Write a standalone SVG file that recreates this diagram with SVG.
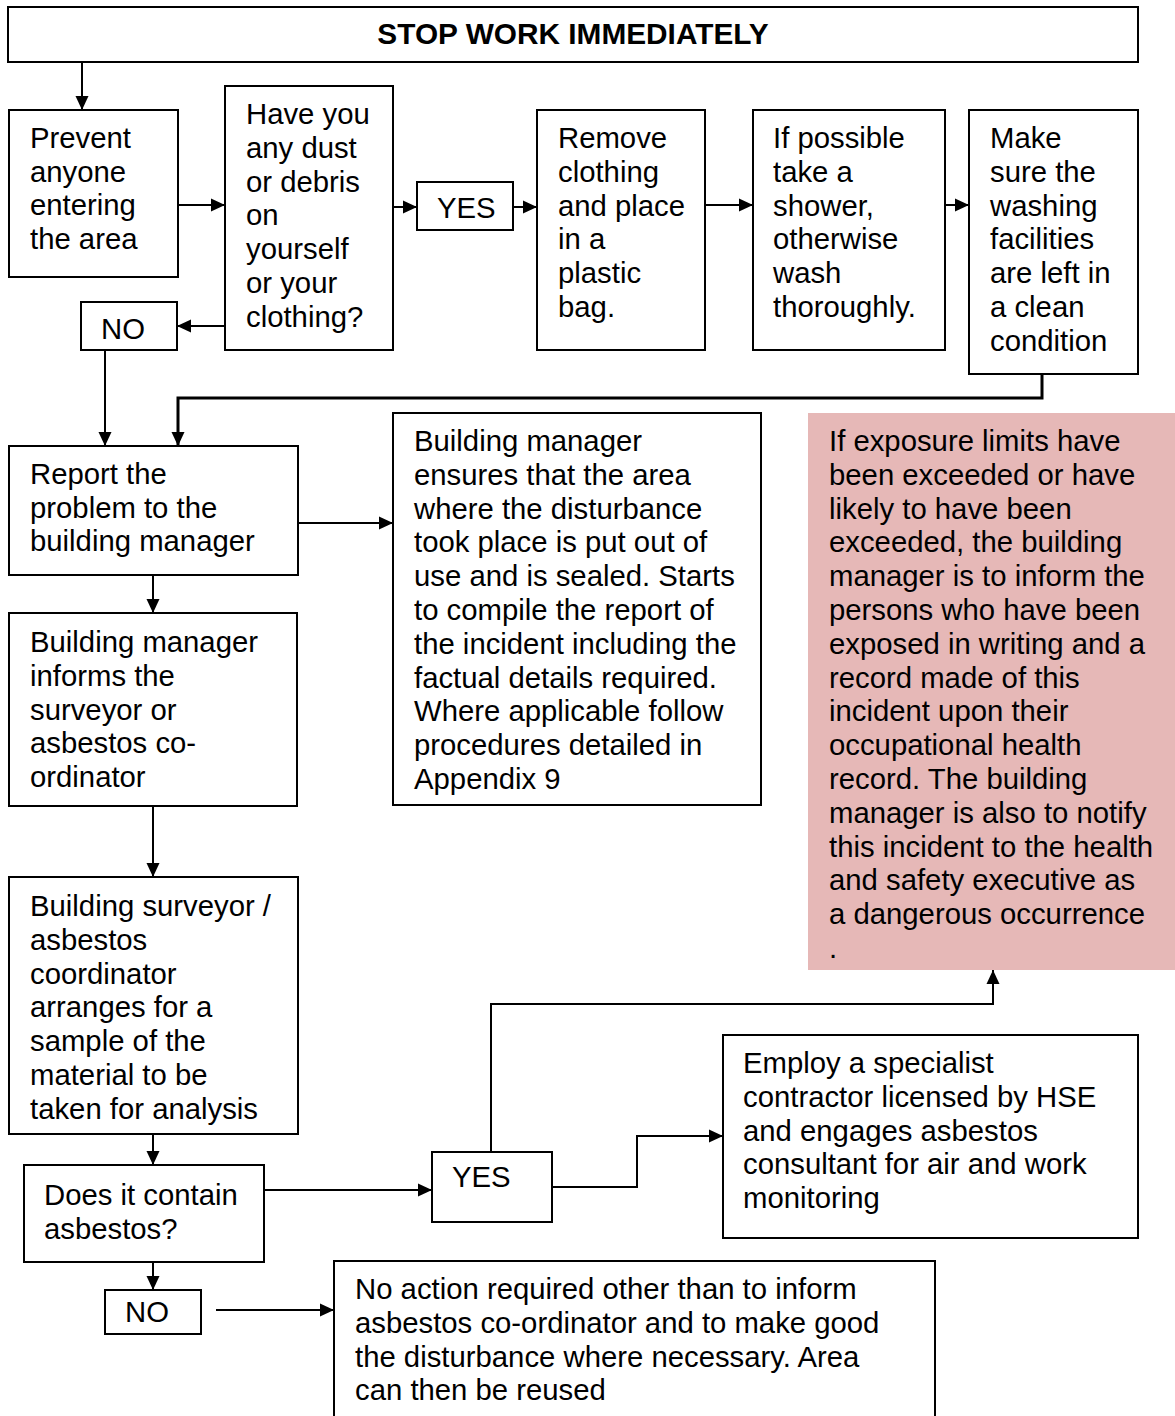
<svg xmlns="http://www.w3.org/2000/svg" width="1175" height="1416" viewBox="0 0 1175 1416">
<style>
.box{fill:#fff;stroke:#000;stroke-width:2}
.pink{fill:#e6b8b7;stroke:none}
.t{font-family:"Liberation Sans",Arial,sans-serif;font-size:29.3px;fill:#000}
.title{font-family:"Liberation Sans",Arial,sans-serif;font-size:29.8px;font-weight:bold;fill:#000}
.c{fill:none;stroke:#000;stroke-width:2}
.thick{fill:none;stroke:#000;stroke-width:3}
</style>
<defs>
<marker id="arr" markerUnits="userSpaceOnUse" markerWidth="15" markerHeight="15" refX="14" refY="7.5" orient="auto">
<path d="M0,1 L14,7.5 L0,14 z" fill="#000"/>
</marker>
</defs>

<g id="connectors">
<path class="c" d="M82,62 V110" marker-end="url(#arr)"/>
<path class="c" d="M178,205 H225" marker-end="url(#arr)"/>
<path class="c" d="M393,207 H417" marker-end="url(#arr)"/>
<path class="c" d="M513,207 H537" marker-end="url(#arr)"/>
<path class="c" d="M705,205 H753" marker-end="url(#arr)"/>
<path class="c" d="M945,205 H969" marker-end="url(#arr)"/>
<path class="c" d="M225,326 H177" marker-end="url(#arr)"/>
<path class="c" d="M105,350 V446" marker-end="url(#arr)"/>
<path class="thick" d="M1042,374 V398 H178 V446" marker-end="url(#arr)"/>
<path class="c" d="M292,523 H393" marker-end="url(#arr)"/>
<path class="c" d="M153,575 V613" marker-end="url(#arr)"/>
<path class="c" d="M153,806 V877" marker-end="url(#arr)"/>
<path class="c" d="M153,1134 V1165" marker-end="url(#arr)"/>
<path class="c" d="M153,1262 V1290" marker-end="url(#arr)"/>
<path class="c" d="M216,1310 H334" marker-end="url(#arr)"/>
<path class="c" d="M264,1190 H432" marker-end="url(#arr)"/>
<path class="c" d="M552,1187 H637 V1136 H723" marker-end="url(#arr)"/>
<path class="c" d="M491,1152 V1004 H993 V970" marker-end="url(#arr)"/>
</g>

<g id="stop">
<rect class="box" x="8" y="7" width="1130" height="55"/>
<text class="title" x="573" y="44" text-anchor="middle">STOP WORK IMMEDIATELY</text>
</g>

<g id="prevent">
<rect class="box" x="9" y="110" width="169" height="167"/>
<text class="t" x="30" y="148"><tspan x="30">Prevent</tspan><tspan x="30" dy="33.7">anyone</tspan><tspan x="30" dy="33.7">entering</tspan><tspan x="30" dy="33.7">the area</tspan></text>
</g>

<g id="dust">
<rect class="box" x="225" y="86" width="168" height="264"/>
<text class="t" x="246" y="124"><tspan x="246">Have you</tspan><tspan x="246" dy="33.8">any dust</tspan><tspan x="246" dy="33.8">or debris</tspan><tspan x="246" dy="33.8">on</tspan><tspan x="246" dy="33.8">yourself</tspan><tspan x="246" dy="33.8">or your</tspan><tspan x="246" dy="33.8">clothing?</tspan></text>
</g>

<g id="yes1">
<rect class="box" x="417" y="182" width="96" height="48"/>
<text class="t" x="437" y="218">YES</text>
</g>

<g id="remove">
<rect class="box" x="537" y="110" width="168" height="240"/>
<text class="t" x="558" y="148"><tspan x="558">Remove</tspan><tspan x="558" dy="33.8">clothing</tspan><tspan x="558" dy="33.8">and place</tspan><tspan x="558" dy="33.8">in a</tspan><tspan x="558" dy="33.8">plastic</tspan><tspan x="558" dy="33.8">bag.</tspan></text>
</g>

<g id="shower">
<rect class="box" x="753" y="110" width="192" height="240"/>
<text class="t" x="773" y="148"><tspan x="773">If possible</tspan><tspan x="773" dy="33.8">take a</tspan><tspan x="773" dy="33.8">shower,</tspan><tspan x="773" dy="33.8">otherwise</tspan><tspan x="773" dy="33.8">wash</tspan><tspan x="773" dy="33.8">thoroughly.</tspan></text>
</g>

<g id="clean">
<rect class="box" x="969" y="110" width="169" height="264"/>
<text class="t" x="990" y="148"><tspan x="990">Make</tspan><tspan x="990" dy="33.8">sure the</tspan><tspan x="990" dy="33.8">washing</tspan><tspan x="990" dy="33.8">facilities</tspan><tspan x="990" dy="33.8">are left in</tspan><tspan x="990" dy="33.8">a clean</tspan><tspan x="990" dy="33.8">condition</tspan></text>
</g>

<g id="no1">
<rect class="box" x="81" y="302" width="96" height="48"/>
<text class="t" x="101" y="339">NO</text>
</g>

<g id="report">
<rect class="box" x="9" y="446" width="289" height="129"/>
<text class="t" x="30" y="484"><tspan x="30">Report the</tspan><tspan x="30" dy="33.7">problem to the</tspan><tspan x="30" dy="33.7">building manager</tspan></text>
</g>

<g id="sealed">
<rect class="box" x="393" y="413" width="368" height="392"/>
<text class="t" x="414" y="451"><tspan x="414">Building manager</tspan><tspan x="414" dy="33.8">ensures that the area</tspan><tspan x="414" dy="33.8">where the disturbance</tspan><tspan x="414" dy="33.8">took place is put out of</tspan><tspan x="414" dy="33.8">use and is sealed. Starts</tspan><tspan x="414" dy="33.8">to compile the report of</tspan><tspan x="414" dy="33.8">the incident including the</tspan><tspan x="414" dy="33.8">factual details required.</tspan><tspan x="414" dy="33.8">Where applicable follow</tspan><tspan x="414" dy="33.8">procedures detailed in</tspan><tspan x="414" dy="33.8">Appendix 9</tspan></text>
</g>

<g id="exposure">
<rect class="pink" x="808" y="413" width="367" height="557"/>
<text class="t" x="829" y="451"><tspan x="829">If exposure limits have</tspan><tspan x="829" dy="33.8">been exceeded or have</tspan><tspan x="829" dy="33.8">likely to have been</tspan><tspan x="829" dy="33.8">exceeded, the building</tspan><tspan x="829" dy="33.8">manager is to inform the</tspan><tspan x="829" dy="33.8">persons who have been</tspan><tspan x="829" dy="33.8">exposed in writing and a</tspan><tspan x="829" dy="33.8">record made of this</tspan><tspan x="829" dy="33.8">incident upon their</tspan><tspan x="829" dy="33.8">occupational health</tspan><tspan x="829" dy="33.8">record. The building</tspan><tspan x="829" dy="33.8">manager is also to notify</tspan><tspan x="829" dy="33.8">this incident to the health</tspan><tspan x="829" dy="33.8">and safety executive as</tspan><tspan x="829" dy="33.8">a dangerous occurrence</tspan><tspan x="829" dy="33.8">.</tspan></text>
</g>

<g id="informs">
<rect class="box" x="9" y="613" width="288" height="193"/>
<text class="t" x="30" y="652"><tspan x="30">Building manager</tspan><tspan x="30" dy="33.8">informs the</tspan><tspan x="30" dy="33.8">surveyor or</tspan><tspan x="30" dy="33.8">asbestos co-</tspan><tspan x="30" dy="33.8">ordinator</tspan></text>
</g>

<g id="sample">
<rect class="box" x="9" y="877" width="289" height="257"/>
<text class="t" x="30" y="916"><tspan x="30">Building surveyor /</tspan><tspan x="30" dy="33.8">asbestos</tspan><tspan x="30" dy="33.8">coordinator</tspan><tspan x="30" dy="33.8">arranges for a</tspan><tspan x="30" dy="33.8">sample of the</tspan><tspan x="30" dy="33.8">material to be</tspan><tspan x="30" dy="33.8">taken for analysis</tspan></text>
</g>

<g id="contain">
<rect class="box" x="24" y="1165" width="240" height="97"/>
<text class="t" x="44" y="1205"><tspan x="44">Does it contain</tspan><tspan x="44" dy="33.5">asbestos?</tspan></text>
</g>

<g id="no2">
<rect class="box" x="105" y="1290" width="96" height="44"/>
<text class="t" x="125" y="1322">NO</text>
</g>

<g id="yes2">
<rect class="box" x="432" y="1152" width="120" height="70"/>
<text class="t" x="452" y="1187">YES</text>
</g>

<g id="specialist">
<rect class="box" x="723" y="1035" width="415" height="203"/>
<text class="t" x="743" y="1073"><tspan x="743">Employ a specialist</tspan><tspan x="743" dy="33.8">contractor licensed by HSE</tspan><tspan x="743" dy="33.8">and engages asbestos</tspan><tspan x="743" dy="33.8">consultant for air and work</tspan><tspan x="743" dy="33.8">monitoring</tspan></text>
</g>

<g id="noaction">
<rect class="box" x="334" y="1261" width="601" height="170"/>
<text class="t" x="355" y="1299"><tspan x="355">No action required other than to inform</tspan><tspan x="355" dy="33.8">asbestos co-ordinator and to make good</tspan><tspan x="355" dy="33.8">the disturbance where necessary. Area</tspan><tspan x="355" dy="33.8">can then be reused</tspan></text>
</g>
</svg>
